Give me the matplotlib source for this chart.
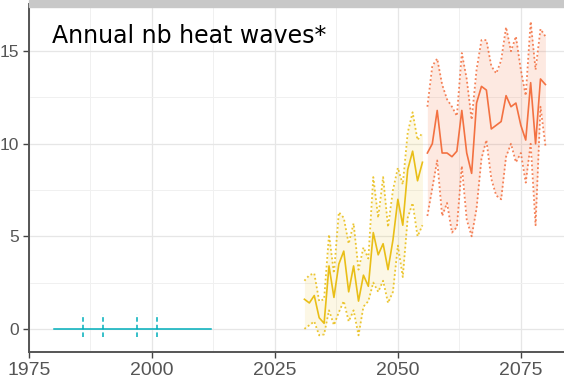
import matplotlib
matplotlib.use("Agg")
import matplotlib.pyplot as plt
from matplotlib.patches import Rectangle

# historical period (blue)
hist_years = list(range(1980, 2013))
hist_mean = [0.0] * len(hist_years)
event_years = [1986, 1990, 1997, 2001]
event_low = [-0.45, -0.45, -0.45, -0.45]
event_high = [0.8, 0.8, 0.8, 0.8]

# near future (yellow)
mid_years = list(range(2031, 2056))
mid_mean = [1.6, 1.4, 1.8, 0.6, 0.3, 3.4, 1.7, 3.5, 4.2, 2.0, 3.4, 1.5, 2.9,
            2.3, 5.2, 4.0, 4.6, 3.2, 4.8, 7.0, 5.6, 8.6, 9.6, 8.0, 9.0]
mid_high = [2.6, 2.9, 3.0, 1.5, 1.6, 5.1, 3.0, 6.3, 6.0, 4.6, 5.7, 3.2, 4.4,
            3.8, 8.2, 6.0, 8.2, 5.5, 7.5, 8.7, 7.8, 10.6, 11.7, 10.2, 10.6]
mid_low = [0.0, 0.2, 0.4, -0.35, -0.3, 1.0, 0.2, 0.9, 1.5, 0.4, 1.0, -0.35, 1.2,
           1.5, 2.5, 2.0, 2.6, 1.4, 2.0, 4.5, 2.8, 6.0, 6.8, 5.0, 5.6]

# far future (orange)
far_years = list(range(2056, 2081))
far_mean = [9.5, 10.0, 11.8, 9.5, 9.5, 9.3, 9.6, 11.8, 9.5, 8.4, 12.2, 13.1, 12.9,
            10.8, 11.0, 11.2, 12.6, 12.0, 12.2, 11.0, 10.2, 13.3, 10.0, 13.5, 13.2]
far_high = [12.0, 14.2, 14.6, 13.2, 12.4, 12.0, 11.5, 14.9, 13.5, 11.3, 14.0, 15.6, 15.6,
            14.2, 13.8, 14.5, 16.3, 15.0, 15.8, 14.0, 12.6, 16.6, 14.0, 16.2, 15.8]
far_low = [6.1, 7.6, 9.1, 6.1, 6.8, 5.2, 5.5, 8.8, 5.9, 5.0, 6.5, 9.2, 10.2,
           8.1, 7.2, 7.0, 9.3, 10.0, 9.0, 9.5, 7.9, 10.0, 5.6, 12.0, 9.9]

blue = "#00AFBB"
yellow = "#E7B800"
orange = "#F26430"

fig = plt.figure(figsize=(5.64, 3.85), dpi=100)
ax = fig.add_axes([29 / 564, 33 / 385, 541 / 564, 348 / 385])

ax.plot(hist_years, hist_mean, color=blue, lw=1.1)
ax.vlines(event_years, event_low, event_high, color=blue, lw=1.1, linestyles=(0, (3, 2)))

for yrs, m, lo, hi, c, a in [(mid_years, mid_mean, mid_low, mid_high, yellow, 0.1),
                             (far_years, far_mean, far_low, far_high, orange, 0.14)]:
    ax.fill_between(yrs, lo, hi, color=c, alpha=a, lw=0)
    ax.plot(yrs, hi, color=c, lw=1.3, ls=(0, (1, 1.4)), alpha=0.8)
    ax.plot(yrs, lo, color=c, lw=1.3, ls=(0, (1, 1.4)), alpha=0.8)
    ax.plot(yrs, m, color=c, lw=1.2, alpha=0.9)

ax.set_xlim(1975, 2085)
ax.set_ylim(-1.25, 17.55)
ax.set_xticks([1975, 2000, 2025, 2050, 2075])
ax.set_xticks([1987.5, 2012.5, 2037.5, 2062.5], minor=True)
ax.set_yticks([0, 5, 10, 15])
ax.set_yticks([2.5, 7.5, 12.5], minor=True)
ax.grid(True, which="major", color="#e6e6e6", lw=0.9)
ax.grid(True, which="minor", color="#f0f0f0", lw=0.7)
ax.set_axisbelow(True)

ax.tick_params(axis="both", which="major", length=4, width=1, color="#444444",
               labelcolor="#555555", pad=3)
ax.tick_params(axis="x", labelsize=14, labelfontfamily="Liberation Sans")
ax.tick_params(axis="y", labelsize=12.5, labelfontfamily="Liberation Sans")
ax.tick_params(which="minor", length=0)

for s in ["left", "bottom"]:
    ax.spines[s].set_color("#555555")
    ax.spines[s].set_linewidth(1.4)
ax.spines["right"].set_visible(False)
ax.spines["top"].set_visible(False)

# gray band at the top of the panel
fig.patches.append(Rectangle((29 / 564, 378 / 385), 1, 7 / 385,
                             transform=fig.transFigure, color="#c8c8c8", zorder=5))

fig.text(52 / 564, 1 - 43 / 385, "Annual nb heat waves*", fontsize=17,
         color="black", va="baseline", ha="left")

fig.savefig("out.png", dpi=100)
